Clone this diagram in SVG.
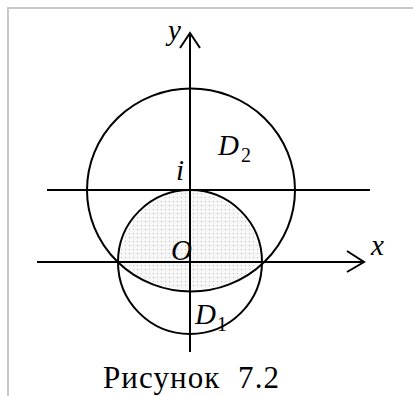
<svg xmlns="http://www.w3.org/2000/svg" width="413" height="396" viewBox="0 0 413 396">
<style>
.ln{stroke:#000;stroke-width:2;fill:none}
.it{font-family:"Liberation Serif",serif;font-style:italic;fill:#000}
.rm{font-family:"Liberation Serif",serif;fill:#000}
</style>
<defs>
<pattern id="dots" width="4" height="4" patternUnits="userSpaceOnUse">
<rect width="4" height="4" fill="#f7f7f7"/>
<rect x="1" y="1" width="1" height="1" fill="#bcbcbc"/>
</pattern>
<clipPath id="c1"><circle cx="190" cy="262" r="70"/></clipPath>
</defs>
<rect width="413" height="396" fill="#fff"/>
<path d="M8 396V8H413" stroke="#c8c8c8" stroke-width="2" fill="none"/>
<g id="shade"><ellipse cx="191" cy="190" rx="102" ry="99.5" fill="url(#dots)" clip-path="url(#c1)"/></g>
<g id="D2"><ellipse class="ln" cx="191" cy="190" rx="104" ry="101.5"/></g>
<g id="D1"><circle class="ln" cx="190" cy="262" r="72"/></g>
<g id="connectors">
<line class="ln" x1="190" y1="33" x2="190" y2="352"/>
<polyline class="ln" points="180,48 190,33 200,48"/>
<line class="ln" x1="37" y1="262" x2="364" y2="262"/>
<polyline class="ln" points="347,251 364,262 347,272"/>
<line class="ln" x1="47" y1="190" x2="370" y2="190"/>
</g>
<g id="labels">
<text class="it" x="168" y="40" font-size="29">y</text>
<text class="it" x="218" y="155" font-size="29">D</text>
<text class="rm" x="241" y="162" font-size="20">2</text>
<text class="it" x="176" y="180" font-size="29">i</text>
<text class="it" x="171" y="260" font-size="29">O</text>
<text class="it" x="371" y="255" font-size="29">x</text>
<text class="it" x="195" y="324" font-size="29">D</text>
<text class="rm" x="217" y="331" font-size="20">1</text>
<text class="rm" x="103" y="388" font-size="31" textLength="176" xml:space="preserve">Рисунок  7.2</text>
</g>
</svg>
